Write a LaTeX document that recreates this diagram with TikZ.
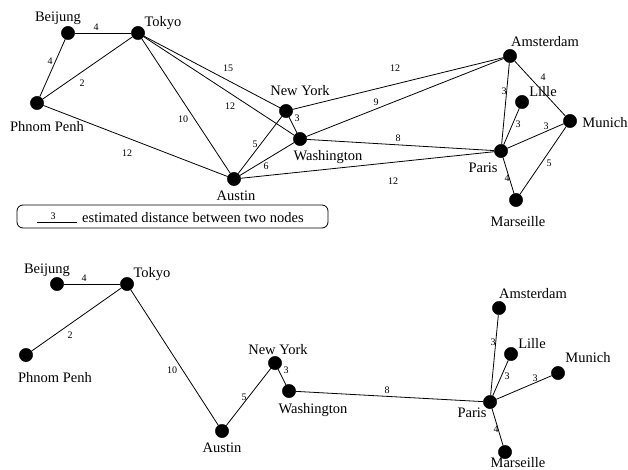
\documentclass[tikz,border=0pt]{standalone}
\usepackage{fontspec}
\setmainfont{Liberation Serif}
\begin{document}
\begin{tikzpicture}[x=1pt,y=-1pt,
  city/.style={circle,fill=black,draw=black,minimum size=13.3pt,inner sep=0pt},
  clab/.style={inner sep=0pt,font=\fontsize{14.5}{16}\selectfont},
  elab/.style={inner sep=0pt,font=\fontsize{10}{11}\selectfont},
  edge/.style={line width=0.8pt}]
\useasboundingbox (0,0) rectangle (628,470);
% ---------- top graph ----------
\node[city] (B) at (68,33) {};
\node[city] (T) at (138,33) {};
\node[city] (P) at (37,103) {};
\node[city] (N) at (286,111) {};
\node[city] (W) at (300,139) {};
\node[city] (A) at (234,179) {};
\node[city] (Am) at (510,56) {};
\node[city] (L) at (522,102) {};
\node[city] (M) at (570,121) {};
\node[city] (Pa) at (501,151) {};
\node[city] (Ma) at (516,200) {};
\node[clab] (Bl) at (58,18) {Beijung};
\node[clab] (Tl) at (163,23) {Tokyo};
\node[clab] (Pl) at (47,127) {Phnom Penh};
\node[clab] (Nl) at (300,91) {New York};
\node[clab] (Wl) at (328,157) {Washington};
\node[clab] (Al) at (236,196) {Austin};
\node[clab] (Aml) at (545,42) {Amsterdam};
\node[clab] (Ll) at (543,92) {Lille};
\node[clab] (Ml) at (605,123) {Munich};
\node[clab] (Pal) at (483,168) {Paris};
\node[clab] (Mal) at (518,222) {Marseille};
\draw[edge] (B) -- (T);
\draw[edge] (B) -- (P);
\draw[edge] (T) -- (P);
\draw[edge] (T) -- (N);
\draw[edge] (T) -- (W);
\draw[edge] (T) -- (A);
\draw[edge] (P) -- (A);
\draw[edge] (N) -- (W);
\draw[edge] (A) -- (N);
\draw[edge] (A) -- (W);
\draw[edge] (A) -- (Pa);
\draw[edge] (N) -- (Am);
\draw[edge] (W) -- (Am);
\draw[edge] (W) -- (Pa);
\draw[edge] (Am) -- (Pa);
\draw[edge] (Am) -- (M);
\draw[edge] (L) -- (Pa);
\draw[edge] (Pa) -- (M);
\draw[edge] (M) -- (Ma);
\draw[edge] (Pa) -- (Ma);
\node[elab] (e1) at (96,27) {4};
\node[elab] (e2) at (50,61) {4};
\node[elab] (e3) at (82,83) {2};
\node[elab] (e4) at (228,68) {15};
\node[elab] (e5) at (230,106) {12};
\node[elab] (e6) at (183,119) {10};
\node[elab] (e7) at (127,153) {12};
\node[elab] (e8) at (297,118) {3};
\node[elab] (e9) at (255,144) {5};
\node[elab] (e10) at (266,166) {6};
\node[elab] (e11) at (393,181) {12};
\node[elab] (e12) at (395,68) {12};
\node[elab] (e13) at (376,102) {9};
\node[elab] (e14) at (398,138) {8};
\node[elab] (e15) at (504,91) {3};
\node[elab] (e16) at (543,77) {4};
\node[elab] (e17) at (518,124) {3};
\node[elab] (e18) at (546,126) {3};
\node[elab] (e19) at (549,163) {5};
\node[elab] (e20) at (507,178) {4};
% ---------- legend ----------
\node[draw,line width=0.8pt,rounded corners=6pt,minimum width=311pt,minimum height=23pt,inner sep=0pt] (legend) at (172.5,216.5) {};
\coordinate (lg1) at (37,222);
\coordinate (lg2) at (77,222);
\draw[edge] (lg1) -- (lg2);
\node[elab] (lg3) at (53,216) {3};
\node[clab,anchor=west] (lgt) at (82,218) {estimated distance between two nodes};
% ---------- bottom graph ----------
\node[city] (b2) at (57,284) {};
\node[city] (t2) at (127,284) {};
\node[city] (p2) at (26,355) {};
\node[city] (n2) at (275,363) {};
\node[city] (w2) at (289,391) {};
\node[city] (a2) at (222,431) {};
\node[city] (am2) at (499,308) {};
\node[city] (l2) at (511,354) {};
\node[city] (m2) at (558,373) {};
\node[city] (pa2) at (490,402) {};
\node[city] (ma2) at (505,452) {};
\node[clab] (b2l) at (47,270) {Beijung};
\node[clab] (t2l) at (152,274) {Tokyo};
\node[clab] (p2l) at (55,378) {Phnom Penh};
\node[clab] (n2l) at (278,350) {New York};
\node[clab] (w2l) at (313,410) {Washington};
\node[clab] (a2l) at (222,448) {Austin};
\node[clab] (am2l) at (533,294) {Amsterdam};
\node[clab] (l2l) at (532,344) {Lille};
\node[clab] (m2l) at (588,358) {Munich};
\node[clab] (pa2l) at (472,413) {Paris};
\node[clab] (ma2l) at (518,463) {Marseille};
\draw[edge] (b2) -- (t2);
\draw[edge] (t2) -- (p2);
\draw[edge] (t2) -- (a2);
\draw[edge] (a2) -- (n2);
\draw[edge] (n2) -- (w2);
\draw[edge] (w2) -- (pa2);
\draw[edge] (pa2) -- (am2);
\draw[edge] (pa2) -- (l2);
\draw[edge] (pa2) -- (m2);
\draw[edge] (pa2) -- (ma2);
\node[elab] (f1) at (84,278) {4};
\node[elab] (f2) at (70,335) {2};
\node[elab] (f3) at (172,370) {10};
\node[elab] (f4) at (244,397) {5};
\node[elab] (f5) at (286,370) {3};
\node[elab] (f6) at (387,390) {8};
\node[elab] (f7) at (493,342) {3};
\node[elab] (f8) at (507,376) {3};
\node[elab] (f9) at (535,378) {3};
\node[elab] (f10) at (496,429) {4};
\end{tikzpicture}
\end{document}
